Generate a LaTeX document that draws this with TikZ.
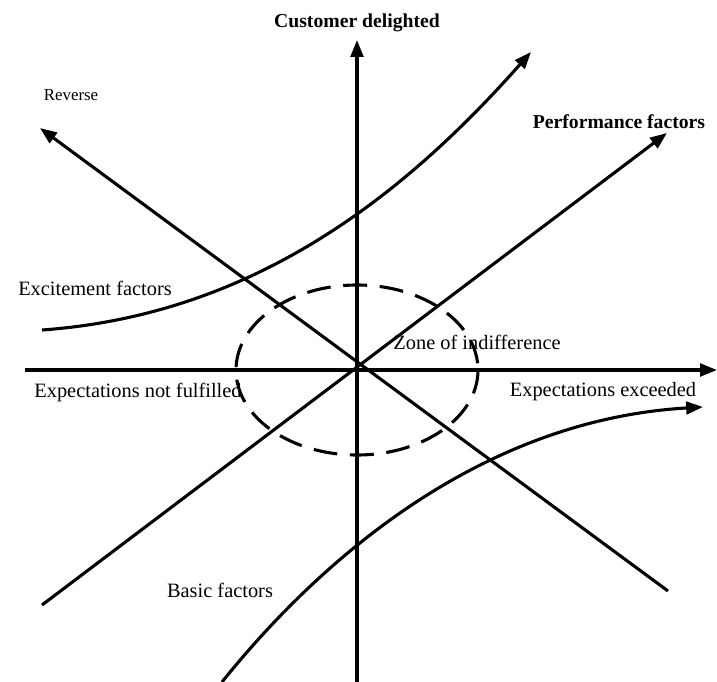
\documentclass[tikz,border=0pt]{standalone}
\usepackage{fontspec}
\setmainfont{Liberation Serif}
\usetikzlibrary{arrows.meta, positioning}
\tikzset{
  axis/.style={line width=2.2pt, -{Triangle[length=12pt, width=9pt]}},
  plain/.style={line width=2.2pt},
  lbl/.style={font=\fontsize{14.5}{16}\selectfont, inner sep=1pt},
  blbl/.style={font=\fontsize{14}{16}\selectfont\bfseries, inner sep=1pt},
  slbl/.style={font=\fontsize{12}{13}\selectfont, inner sep=1pt},
  zone/.style={line width=2.2pt, dash pattern=on 17pt off 9pt},
}
\begin{document}
\begin{tikzpicture}[x=0.025cm, y=-0.025cm]
  \useasboundingbox (0,0) rectangle (717,682);

  % Ankerpunkte (Pixelraster, y nach unten)
  \coordinate (O) at (357,370);
  \coordinate (xl) at (25,370);
  \coordinate (xr) at (717,370);
  \coordinate (yb) at (357,682);
  \coordinate (yt) at (357,40);
  \coordinate (revS) at (668,591);
  \coordinate (revE) at (40,128);
  \coordinate (perfS) at (42,605);
  \coordinate (perfE) at (667,133);
  \coordinate (excS) at (42,330);
  \coordinate (excE) at (531,52);
  \coordinate (basS) at (222,682);
  \coordinate (basE) at (703,407);

  % Achsen
  \draw[axis] (xl) -- (xr);
  \draw[axis] (yb) -- (yt);

  % Geraden durch den Ursprung
  \draw[axis] (revS) -- (revE);
  \draw[axis] (perfS) -- (perfE);

  % Kurven
  \draw[axis] (excS) .. controls (250,315) and (400,200) .. (excE);
  \draw[axis] (basS) .. controls (320,560) and (480,420) .. (basE);

  % Indifferenzzone
  \draw[zone] (O) ellipse [x radius=121, y radius=85];

  % Beschriftungen
  \node[blbl] (cust) at (357,23) {Customer delighted};
  \node[slbl] (rev) at (71,95) {Reverse};
  \node[blbl] (perf) at (619,122) {Performance factors};
  \node[lbl] (exc) at (95,288) {Excitement factors};
  \node[lbl] (zoi) at (477,342) {Zone of indifference};
  \node[lbl] (enf) at (138,392) {Expectations not fulfilled};
  \node[lbl] (eex) at (603,392) {Expectations exceeded};
  \node[lbl] (bas) at (220,590) {Basic factors};
\end{tikzpicture}
\end{document}
